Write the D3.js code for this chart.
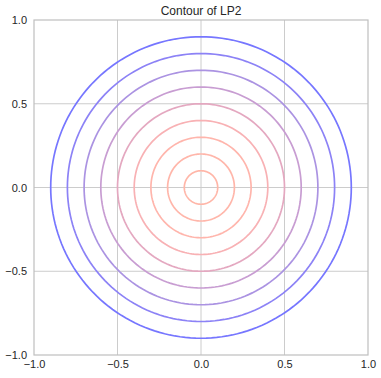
<!DOCTYPE html>
<html>
<head>
<meta charset="utf-8">
<script src="https://cdn.jsdelivr.net/npm/d3@7"></script>
<style>
  body { margin: 0; background: #fff; }
  text { font-family: "Liberation Sans", Arial, sans-serif; }
</style>
</head>
<body>
<div id="chart"></div>
<script>
// contour levels of the L2 norm and their colours
var levels = [0.9, 0.8, 0.7, 0.6, 0.5, 0.4, 0.3, 0.2, 0.1];
var levelColors = ["#7676ff", "#8c82f6", "#ab93e2", "#c89dd2", "#e4a8c0", "#f8b1b4", "#ffb5ac", "#ffb6aa", "#ffb6a8"];
var xTicks = [-1, -0.5, 0, 0.5, 1];
var yTicks = [-1, -0.5, 0, 0.5, 1];
var title = "Contour of LP2";

var W = 381, H = 378;
var margin = { top: 20, right: 13, bottom: 23, left: 34 },
  width = W - margin.left - margin.right,
  height = H - margin.top - margin.bottom;

var svg = d3.select("#chart").append("svg")
  .attr("width", W)
  .attr("height", H);

var g = svg.append("g")
  .attr("transform", "translate(" + margin.left + "," + margin.top + ")");

var x = d3.scaleLinear().domain([-1, 1]).range([0, width]);
var y = d3.scaleLinear().domain([-1, 1]).range([height, 0]);

var fmt = function (d) { return d3.format(".1f")(d).replace("-", "\u2212"); };

// grid
g.append("g").selectAll("line")
  .data(xTicks.slice(1, -1))
  .enter().append("line")
  .attr("x1", d => x(d)).attr("x2", d => x(d))
  .attr("y1", 0).attr("y2", height)
  .attr("stroke", "#cccccc").attr("stroke-width", 1);

g.append("g").selectAll("line")
  .data(yTicks.slice(1, -1))
  .enter().append("line")
  .attr("y1", d => y(d)).attr("y2", d => y(d))
  .attr("x1", 0).attr("x2", width)
  .attr("stroke", "#cccccc").attr("stroke-width", 1);

// contour circles
var circle = d3.line().curve(d3.curveLinearClosed);
g.append("g").selectAll("path")
  .data(levels)
  .enter().append("path")
  .attr("d", function (r) {
    var pts = d3.range(0, 360, 2).map(function (a) {
      var t = a * Math.PI / 180;
      return [x(r * Math.cos(t)), y(r * Math.sin(t))];
    });
    return circle(pts);
  })
  .attr("fill", "none")
  .attr("stroke", (d, i) => levelColors[i])
  .attr("stroke-width", 1.7);

// frame
g.append("rect")
  .attr("x", 0).attr("y", 0)
  .attr("width", width).attr("height", height)
  .attr("fill", "none")
  .attr("stroke", "#bfbfbf").attr("stroke-width", 1.2);

// axes
var xAxis = g.append("g")
  .attr("transform", "translate(0," + height + ")")
  .call(d3.axisBottom(x).tickValues(xTicks).tickFormat(fmt).tickSize(0).tickPadding(5));
var yAxis = g.append("g")
  .call(d3.axisLeft(y).tickValues(yTicks).tickFormat(fmt).tickSize(0).tickPadding(7));

[xAxis, yAxis].forEach(function (a) {
  a.select(".domain").remove();
  a.selectAll("text").attr("font-size", 11).attr("fill", "#262626")
    .style("font-family", "Liberation Sans, Arial, sans-serif");
});

svg.append("text")
  .attr("x", margin.left + width / 2)
  .attr("y", 15)
  .attr("text-anchor", "middle")
  .attr("font-size", 12)
  .attr("fill", "#262626")
  .text(title);
</script>
</body>
</html>
